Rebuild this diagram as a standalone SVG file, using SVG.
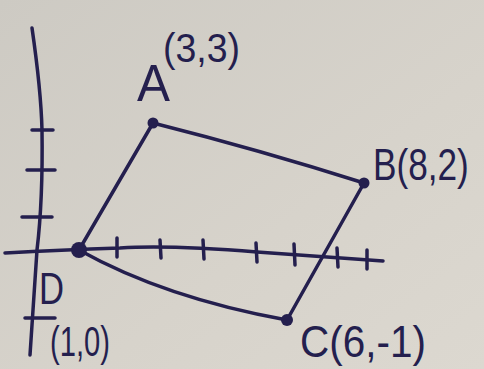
<svg xmlns="http://www.w3.org/2000/svg" width="484" height="369" viewBox="0 0 484 369">
<defs>
<linearGradient id="paper" x1="0" y1="0" x2="1" y2="1">
<stop offset="0" stop-color="#cdcac3"/>
<stop offset="0.6" stop-color="#d7d3cb"/>
<stop offset="1" stop-color="#dcd8d0"/>
</linearGradient>
<style>
.ink{stroke:#241f4e;stroke-width:3.5;fill:none;stroke-linecap:round;stroke-linejoin:round}
.dot{fill:#241f4e}
.lbl{fill:#241f4e;font-family:"Liberation Sans","DejaVu Sans",sans-serif}
</style>
</defs>
<rect width="484" height="369" fill="url(#paper)"/>
<g id="axes">
<path class="ink" d="M32,28 Q41,90 42,130 Q43,200 37,250 Q33,310 30,355"/>
<path class="ink" d="M5,253 Q60,250 120,248 Q170,245 257,252 Q330,257 383,261"/>
<path class="ink" d="M32,130 L53,130 M27,170 L55,170 M22,217 L52,217 M25,318 L55,318"/>
<path class="ink" d="M117,238 L117,257 M160,240 L161,258 M203,240 L204,259 M256,243 L257,262 M294,244 L295,265 M337,248 L338,267 M367,250 L367,269"/>
</g>
<g id="connectors">
<path class="ink" d="M79,250 L153,123"/>
<path class="ink" d="M153,123 Q260,150 364,183"/>
<path class="ink" d="M364,183 L287,320"/>
<path class="ink" d="M79,250 Q165,298 287,320"/>
</g>
<g id="node-A">
<circle class="dot" cx="153" cy="123" r="5.5"/>
<text class="lbl" x="137" y="101" font-size="52" textLength="33" lengthAdjust="spacingAndGlyphs">A</text>
<text class="lbl" x="163" y="62" font-size="40" textLength="77" lengthAdjust="spacingAndGlyphs">(3,3)</text>
</g>
<g id="node-B">
<circle class="dot" cx="364" cy="183" r="5.5"/>
<text class="lbl" transform="translate(373,180) scale(0.8,1)" x="0" y="0" font-size="44">B(8,2)</text>
</g>
<g id="node-C">
<circle class="dot" cx="287" cy="320" r="6"/>
<text class="lbl" x="300" y="357" font-size="44" textLength="126" lengthAdjust="spacingAndGlyphs">C(6,-1)</text>
</g>
<g id="node-D">
<circle class="dot" cx="79" cy="250" r="8"/>
<text class="lbl" x="39" y="304" font-size="44" textLength="25" lengthAdjust="spacingAndGlyphs">D</text>
<text class="lbl" x="50" y="356" font-size="42" textLength="60" lengthAdjust="spacingAndGlyphs">(1,0)</text>
</g>
</svg>
